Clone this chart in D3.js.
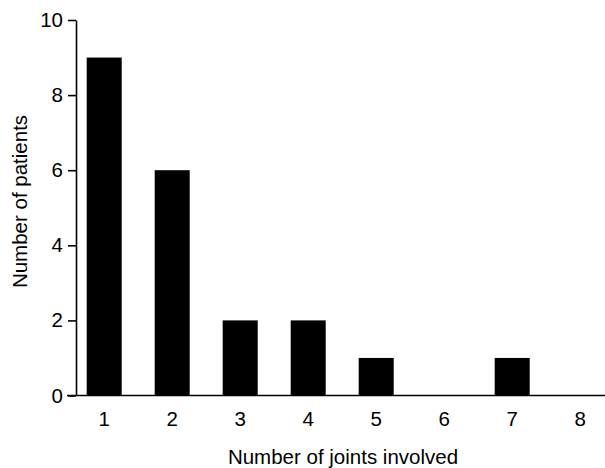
<!DOCTYPE html>
<html><head><meta charset="utf-8">
<script src="https://cdn.jsdelivr.net/npm/d3@7"></script>
<style>body{margin:0;background:#fff}svg{display:block}text{font-family:"Liberation Sans",Arial,sans-serif}</style>
</head><body>
<svg id="c" width="605" height="468"></svg>
<script>
const categories = ["1","2","3","4","5","6","7","8"];
const values = [9, 6, 2, 2, 1, 0, 1, 0];
const yTicks = [0, 2, 4, 6, 8, 10];
const xTitle = "Number of joints involved";
const yTitle = "Number of patients";

const FS = 20.5;
const svg = d3.select("#c");
const y = d3.scaleLinear().domain([0, 10]).range([395.5, 20]);
const x = d3.scaleBand().domain(categories).range([70.2, 614.2]).paddingInner(0.485).paddingOuter(0.2425);

svg.selectAll("rect.bar").data(values).join("rect")
  .attr("class", "bar")
  .attr("x", (d, i) => x(categories[i]))
  .attr("width", x.bandwidth())
  .attr("y", d => y(d))
  .attr("height", d => y(0) - y(d))
  .attr("fill", "#000");

const ya = svg.append("g").attr("transform", "translate(76,0)")
  .call(d3.axisLeft(y).tickValues(yTicks).tickSize(8).tickSizeOuter(0).tickPadding(5));
ya.select(".domain").attr("stroke", "#000").attr("stroke-width", 1.6);
ya.selectAll(".tick line").attr("stroke-width", 1.6);
ya.selectAll("text").attr("font-size", FS).attr("fill", "#000").style("font-family", '"Liberation Sans",Arial,sans-serif');

const xa = svg.append("g").attr("transform", `translate(0,${y(0)})`)
  .call(d3.axisBottom(x).tickSize(0).tickPadding(16));
xa.select(".domain").remove();
xa.selectAll("text").attr("font-size", FS).attr("fill", "#000").style("font-family", '"Liberation Sans",Arial,sans-serif');
svg.append("line").attr("x1", 67).attr("x2", 605).attr("y1", y(0)).attr("y2", y(0))
  .attr("stroke", "#000").attr("stroke-width", 1.6);

svg.append("text").attr("x", 343).attr("y", 464).attr("text-anchor", "middle")
  .attr("font-size", FS).text(xTitle);
svg.append("text").attr("transform", "translate(27,201.5) rotate(-90)").attr("text-anchor", "middle")
  .attr("font-size", FS).text(yTitle);
</script>
</body></html>
